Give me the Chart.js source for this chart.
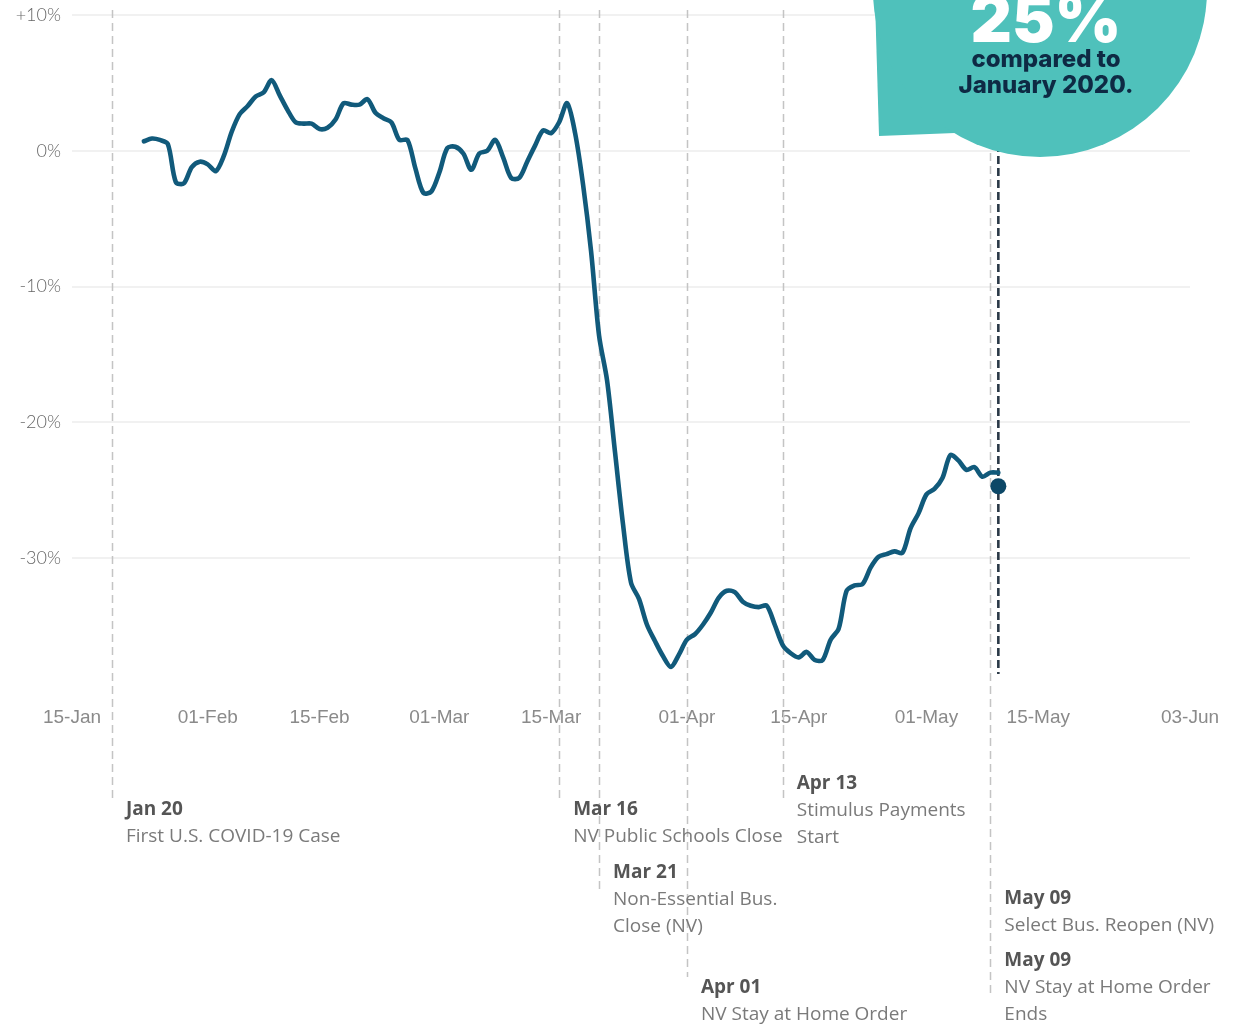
<!DOCTYPE html>
<html><head><meta charset="utf-8">
<script src="https://cdn.jsdelivr.net/npm/chart.js@4.4.1/dist/chart.umd.min.js"></script>
<style>html,body{margin:0;padding:0;background:#fff}#wrap{width:1245px;height:1026px;position:relative}canvas{display:block}</style>
</head><body><div id="wrap"><canvas id="c" width="1245" height="1026" style="width:1245px;height:1026px"></canvas></div>
<script>
// ---------- DATA ----------
// day offsets are counted from 15-Jan-2020
const seriesStartDay = 9; // 24-Jan
const changeValues = [
  0.7, 0.9, 0.8, 0.5, -2.3, -2.4, -1.2, -0.8, -1.0, -1.5,
  -0.4, 1.4, 2.7, 3.3, 4.0, 4.3, 5.2, 4.1, 3.0, 2.1,
  2.0, 2.0, 1.6, 1.7, 2.3, 3.5, 3.4, 3.4, 3.8, 2.8,
  2.4, 2.1, 0.8, 0.8, -1.3, -3.1, -3.0, -1.6, 0.2, 0.3,
  -0.2, -1.4, -0.2, 0.0, 0.8, -0.5, -2.0, -2.0, -0.8, 0.4,
  1.5, 1.3, 2.1, 3.5, 1.3, -2.5, -7.4, -13.6, -16.9, -22.2,
  -27.5, -31.8, -33.0, -34.9, -36.1, -37.2, -38.0, -37.1, -36.0, -35.6,
  -34.9, -34.0, -32.9, -32.4, -32.5, -33.2, -33.5, -33.6, -33.5, -34.9,
  -36.4, -37.0, -37.3, -36.9, -37.5, -37.5, -36.0, -35.2, -32.4, -32.0,
  -31.9, -30.7, -29.9, -29.7, -29.5, -29.6, -27.8, -26.7, -25.3, -24.9,
  -24.1, -22.4, -22.8, -23.5, -23.3, -24.0, -23.7, -23.7
];
const latestDay = 116;      // 10-May
const latestValue = -24.7;
const tickDays = [0, 17, 31, 46, 60, 77, 91, 107, 121, 140];
const tickLabels = ['15-Jan','01-Feb','15-Feb','01-Mar','15-Mar','01-Apr','15-Apr','01-May','15-May','03-Jun'];
const yTickValues = [10, 0, -10, -20, -30];
const yTickLabels = ['+10%', '0%', '-10%', '-20%', '-30%'];
const eventDays = [5, 61, 66, 77, 89, 115, 115];
const eventTitles = ['Jan 20', 'Mar 16', 'Mar 21', 'Apr 01', 'Apr 13', 'May 09', 'May 09'];
const eventDescs = [
  ['First U.S. COVID-19 Case'],
  ['NV Public Schools Close'],
  ['Non-Essential Bus.', 'Close (NV)'],
  ['NV Stay at Home Order'],
  ['Stimulus Payments', 'Start'],
  ['Select Bus. Reopen (NV)'],
  ['NV Stay at Home Order', 'Ends']
];
const calloutBig = '25%';
const calloutLines = ['compared to', 'January 2020.'];

// ---------- LAYOUT (positions only) ----------
const eventLayout = [
  {lineEnd: 803, titleY: 810},
  {lineEnd: 802, titleY: 810},
  {lineEnd: 890, titleY: 873},
  {lineEnd: 977, titleY: 988},
  {lineEnd: 800, titleY: 784},
  {lineEnd: 995, titleY: 899},
  {lineEnd: 995, titleY: 961}
];

const linePoints = changeValues.map((v, i) => ({x: seriesStartDay + i, y: v}));

const annotPlugin = {
  id: 'annot',
  beforeDatasetsDraw(chart) {
    const ctx = chart.ctx, xs = chart.scales.x;
    ctx.save();
    ctx.strokeStyle = '#c4c4c4';
    ctx.lineWidth = 1.5;
    ctx.setLineDash([8, 5]);
    const drawn = new Set();
    eventDays.forEach((d, i) => {
      const x = Math.round(xs.getPixelForValue(d)) + 0.5;
      const key = d + '_' + eventLayout[i].lineEnd;
      if (drawn.has(key)) return;
      drawn.add(key);
      ctx.beginPath();
      ctx.moveTo(x, 10);
      ctx.lineTo(x, eventLayout[i].lineEnd);
      ctx.stroke();
    });
    const lx = xs.getPixelForValue(latestDay);
    ctx.strokeStyle = '#2a3947';
    ctx.lineWidth = 2.6;
    ctx.setLineDash([8, 4]);
    ctx.beginPath();
    ctx.moveTo(lx, 0);
    ctx.lineTo(lx, 674);
    ctx.stroke();
    ctx.restore();
  },
  afterDraw(chart) {
    const ctx = chart.ctx, xs = chart.scales.x;
    ctx.save();
    ctx.setLineDash([]);
    ctx.textBaseline = 'middle';
    ctx.textAlign = 'left';
    eventDays.forEach((d, i) => {
      const x = xs.getPixelForValue(d) + 14;
      let y = eventLayout[i].titleY;
      ctx.fillStyle = '#555';
      ctx.font = 'bold 19px "Open Sans", sans-serif';
      ctx.fillText(eventTitles[i], x, y);
      ctx.fillStyle = '#7a7a7a';
      ctx.font = '19px "Open Sans", sans-serif';
      eventDescs[i].forEach((t, j) => ctx.fillText(t, x, y + 27 * (j + 1)));
    });
    ctx.fillStyle = '#4fc1bb';
    ctx.beginPath();
    ctx.moveTo(875, 0);
    ctx.lineTo(879, 136);
    ctx.lineTo(955, 133);
    ctx.lineTo(1040, 0);
    ctx.closePath();
    ctx.fill();
    ctx.beginPath();
    ctx.arc(1040, -10, 167, 0, Math.PI * 2);
    ctx.fill();
    ctx.textAlign = 'center';
    ctx.textBaseline = 'alphabetic';
    ctx.fillStyle = '#ffffff';
    ctx.font = '900 64px Inter, "Liberation Sans", sans-serif';
    ctx.fillText(calloutBig, 1046, 42);
    ctx.fillStyle = '#0e2a44';
    ctx.font = '800 24px Inter, "Liberation Sans", sans-serif';
    ctx.textBaseline = 'middle';
    ctx.fillText(calloutLines[0], 1046, 60);
    ctx.fillText(calloutLines[1], 1046, 86);
    ctx.restore();
  }
};

new Chart(document.getElementById('c'), {
  type: 'line',
  data: {
    datasets: [
      {
        data: linePoints,
        borderColor: '#115a7b',
        borderWidth: 4.6,
        pointRadius: 0,
        tension: 0.3,
        fill: false,
        borderCapStyle: 'round',
        borderJoinStyle: 'round'
      },
      {
        type: 'scatter',
        data: [{x: latestDay, y: latestValue}],
        pointRadius: 8,
        pointBackgroundColor: '#0c4767',
        pointBorderWidth: 0,
        borderWidth: 0
      }
    ]
  },
  options: {
    responsive: false,
    animation: false,
    devicePixelRatio: 1,
    layout: {padding: {top: 15, right: 55, left: 0, bottom: 0}},
    plugins: {legend: {display: false}, tooltip: {enabled: false}},
    scales: {
      x: {
        type: 'linear',
        min: 0, max: 140,
        grid: {display: false, drawTicks: false},
        border: {display: false},
        afterBuildTicks: s => { s.ticks = tickDays.map(v => ({value: v})); },
        afterFit: s => { s.height = 332; },
        ticks: {
          autoSkip: false, maxRotation: 0, padding: 12,
          color: '#8a8a8a',
          font: {family: '"Liberation Sans", sans-serif', size: 19},
          callback: v => tickLabels[tickDays.indexOf(v)] ?? ''
        }
      },
      y: {
        min: -40, max: 10,
        grid: {color: '#f1f1f1', lineWidth: 2, drawTicks: false},
        border: {display: false},
        afterBuildTicks: s => { s.ticks = yTickValues.map(v => ({value: v})); },
        afterFit: s => { s.width = 72; s.paddingTop = 0; s.paddingBottom = 0; },
        ticks: {
          padding: 11,
          color: '#666',
          font: {family: 'Lato, sans-serif', size: 18, weight: 300},
          callback: v => yTickLabels[yTickValues.indexOf(v)] ?? ''
        }
      }
    }
  },
  plugins: [annotPlugin]
});
</script></body></html>
